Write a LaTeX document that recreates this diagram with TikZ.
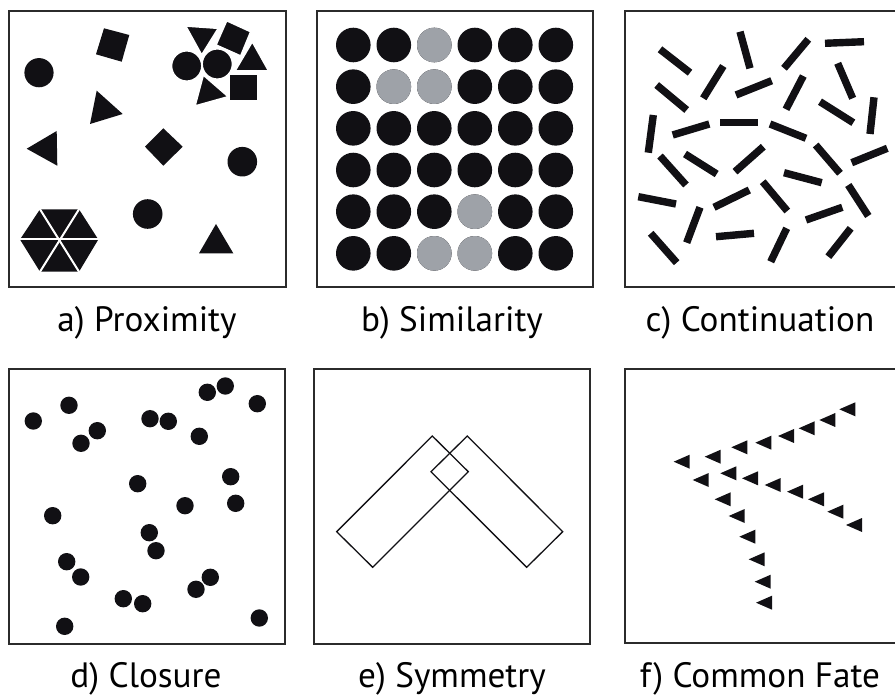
\documentclass[tikz,border=0pt]{standalone}
\usepackage{fontspec}
\setmainfont{PT Sans}
\usepackage{tikz}
\usetikzlibrary{calc}
\definecolor{ink}{HTML}{111014}
\definecolor{dotgray}{HTML}{9EA2A8}
\definecolor{framegray}{HTML}{2B2B2B}
\tikzset{
	panel/.style={draw=framegray, line width=1pt},
	caption/.style={anchor=base, inner sep=0pt, font=\fontsize{17.6}{20}\selectfont},
	blob/.style={fill=ink, draw=white, line width=0.8pt},
	bar/.style={draw=ink, line width=3.7pt},
	outline/.style={draw=ink, line width=0.65pt, line join=miter}
}

\begin{document}
\begin{tikzpicture}[x=0.5pt, y=-0.5pt]
	\useasboundingbox (0,0) rectangle (895,695);
	
	%% -- Panel frames
	\draw[panel] (9,11) rectangle (286,287);
	\draw[panel] (317,11) rectangle (593,287);
	\draw[panel] (625,11.5) rectangle (905,287);
	\draw[panel] (9,369) rectangle (285,644);
	\draw[panel] (314,369) rectangle (590,644);
	\draw[panel] (625,369) rectangle (905,643);
	
	%% -- a) Proximity: loose shapes
	\fill[ink] (39,72.7) circle (7.3pt);
	\fill[ink] (104,28.3) -- (129.3,35) -- (121.7,61.7) -- (96,54.3) -- cycle;
	\fill[ink] (96.7,90.7) -- (122.7,114) -- (90,124) -- cycle;
	\fill[ink] (26.7,148.7) -- (56.7,131) -- (57.3,165.7) -- cycle;
	\fill[ink] (145,146.7) -- (163.3,128.3) -- (182.7,146.7) -- (163.3,165.7) -- cycle;
	\fill[ink] (242.3,161.7) circle (7.4pt);
	\fill[ink] (147.7,214) circle (7.4pt);
	\fill[ink] (216,224) -- (233.3,253.3) -- (199,253.3) -- cycle;
	
	%% -- hexagon of six triangles
	\fill[ink] (20,239.5) -- (40,209.3) -- (79,209.3) -- (98.3,239.5) -- (79,271.7) -- (40,271.7) -- cycle;
	\draw[white, line width=1pt] (19,239.5) -- (99.3,239.5);
	\draw[white, line width=1pt] (39.5,208.5) -- (79.5,272.5);
	\draw[white, line width=1pt] (79.5,208.5) -- (39.5,272.5);
	
	%% -- clustered group, top right
	\filldraw[blob] (185.7,26) -- (218.3,28.3) -- (201.7,55) -- cycle;
	\filldraw[blob] (226.7,20.7) -- (250.7,31.7) -- (240.7,56) -- (216,45) -- cycle;
	\filldraw[blob] (252.3,41.7) -- (268.7,71) -- (235,71) -- cycle;
	\filldraw[blob] (229.3,74) rectangle (257.3,101);
	\filldraw[blob] (203.3,75) -- (228.3,96.7) -- (195,106) -- cycle;
	\filldraw[blob] (186.7,66) circle (7.6pt);
	\filldraw[blob] (217.3,64) circle (7.6pt);
	
	%% -- b) Similarity: 6 x 6 dots, a few in grey
	\foreach \r in {0,...,5}
	\foreach \c in {0,...,5}
	\fill[ink] (353.3+40.5*\c, 45+41.67*\r) circle (8.65pt);
	\foreach \r/\c in {0/2, 1/1, 1/2, 4/3, 5/2, 5/3}
	\fill[dotgray] (353.3+40.5*\c, 45+41.67*\r) circle (8.65pt);
	
	%% -- c) Continuation: scattered bars
	\foreach \xa/\ya/\xb/\yb in {
		660/49.3/690/72.7, 740/31.7/750/68.3, 808.3/39.3/784/68.3,
		825/43.3/864/41.7, 656.7/85/686.7/110, 723.3/66/703.3/98.3,
		736/95/771.7/80.7, 803.3/76/786/109.3, 837.7/63.3/852.7/98.3,
		820/101.7/853.3/122.7, 874/97.3/870/134, 653.3/115/648.3/152.7,
		672.7/135/709.3/124, 720/122.7/758.3/122.7, 770/124/806/138.3,
		660/156/686/185, 685/154/716.7/174, 735/171.7/763.3/146.7,
		815.7/145/840/173.3, 851.7/162.7/887.3/148.3, 784/172.7/821.7/182.7,
		638.3/196.7/676/204, 714/207.3/749.3/190, 762.7/181.7/787.3/211,
		848.3/185/868.3/216, 806/220/842.3/207.3, 700/207.3/686.7/242.7,
		716/236.7/754/233.3, 650.7/233.3/676.7/262.7, 786.7/228.3/770.7/261.7,
		850.7/228.3/828.3/256.7}
	\draw[bar] (\xa,\ya) -- (\xb,\yb);
	
	%% -- d) Closure: dots, mostly in pairs
	\foreach \x/\y in {
		33.3/421, 69/405.3, 97.3/430.7, 81/443.3, 150/418.7, 168.3/421.3,
		199.3/436.3, 207.3/392.3, 225.3/386, 257.3/403.7, 137.7/483.7,
		230.7/476.7, 235.7/503.3, 185/505.7, 52.7/515.7, 149.3/532.7,
		156/550.7, 66.7/561.7, 80.7/577, 123.3/598.7, 142.7/603.7,
		196/589.3, 210.3/577.3, 64.7/626.3, 259.3/618}
	\fill[ink] (\x,\y) circle (4.35pt);
	
	%% -- e) Symmetry: two crossing bars
	\draw[outline] (336.7,531.7) -- (432.3,436) -- (468.3,471.7) -- (372.7,567.3) -- cycle;
	\draw[outline] (431,471.7) -- (467.3,436) -- (562.7,531.7) -- (526.7,567.3) -- cycle;
	
	%% -- f) Common Fate: arrowhead triangles
	\foreach \x/\y in {
		681.7/461.7, 712.7/456.7, 739.3/447.3, 763.3/442.7, 786/436,
		806.7/428.3, 827.3/420, 847.3/409.3,
		700.7/480, 728.3/473.3, 750/478.3, 772.7/485, 795/491.7,
		816/499.3, 835.3/511.7, 854/525,
		722.7/499.3, 736.7/516, 747.3/536.7, 756.7/559.3, 762.7/581.7, 764/602.7}
	\fill[ink] (\x-8,\y) -- (\x+8,\y-7) -- (\x+8,\y+7) -- cycle;
	
	%% -- Captions
	\node[caption] (capA) at (147,332) {a) Proximity};
	\node[caption] (capB) at (452,332) {b) Similarity};
	\node[caption] (capC) at (760,332) {c) Continuation};
	\node[caption] (capD) at (146,687) {d) Closure};
	\node[caption] (capE) at (452,687) {e) Symmetry};
	\node[caption] (capF) at (760,687) {f) Common Fate};
	
\end{tikzpicture}
\end{document}
